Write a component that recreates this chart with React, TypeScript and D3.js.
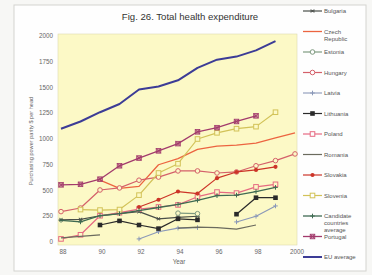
import React from 'react';
import * as d3 from 'd3';

// years on the x axis
const years = [1988, 1989, 1990, 1991, 1992, 1993, 1994, 1995, 1996, 1997, 1998, 1999, 2000];
const xTickLabels = ['88', '90', '92', '94', '96', '98', '2000'];
const xTickYears = [1988, 1990, 1992, 1994, 1996, 1998, 2000];
const yTicks = [0, 250, 500, 750, 1000, 1250, 1500, 1750, 2000];

// PPP $ per head (null = no data)
const bulgaria = [215, 220, 255, 275, 295, 225, 240, 250, null, null, null, null, null];
const czech = [null, null, 600, 520, 540, 750, 810, 900, 930, 940, 960, 1010, 1060];
const estonia = [null, null, null, null, null, null, 280, 275, null, null, null, null, null];
const hungary = [295, 330, 505, 525, 600, 630, 690, 690, 670, 680, 740, 790, 855];
const latvia = [null, null, null, null, 30, 100, 135, 140, null, 195, 250, 350, null];
const lithuania = [null, null, 165, 205, 165, 130, 225, 215, null, 270, 430, 430, null];
const poland = [30, 70, 255, 285, 320, 340, 360, 440, 485, 475, 535, 560, null];
const romania = [40, 55, 70, null, null, null, 135, 145, 140, 125, 165, null, null];
const slovakia = [null, null, null, null, 340, 410, 490, 470, 620, 680, 700, 730, null];
const slovenia = [null, 315, 310, 315, 455, 670, 760, 1000, 1060, 1100, 1120, 1260, null];
const candidates = [210, 195, 255, 275, 305, 335, 365, 405, 450, 455, 490, 530, null];
const portugal = [555, 560, 610, 740, 815, 885, 955, 1070, 1110, 1170, 1225, null, null];
const euAverage = [1100, 1170, 1260, 1340, 1480, 1510, 1570, 1690, 1770, 1800, 1860, 1950, null];

const seriesNames = ['Bulgaria', 'Czech Republic', 'Estonia', 'Hungary', 'Latvia', 'Lithuania', 'Poland',
  'Romania', 'Slovakia', 'Slovenia', 'Candidate countries average', 'Portugal', 'EU average'];
const seriesValues = [bulgaria, czech, estonia, hungary, latvia, lithuania, poland,
  romania, slovakia, slovenia, candidates, portugal, euAverage];

// styles per series
const styles: Record<string, { color: string; marker: string; width: number; label: string[] }> = {
  'Bulgaria': { color: '#4a4f4a', marker: 'star', width: 1.2, label: ['Bulgaria'] },
  'Czech Republic': { color: '#ec6440', marker: 'none', width: 1.3, label: ['Czech', 'Republic'] },
  'Estonia': { color: '#7f9a80', marker: 'circleOpen', width: 1.2, label: ['Estonia'] },
  'Hungary': { color: '#d4606a', marker: 'circleOpen', width: 1.2, label: ['Hungary'] },
  'Latvia': { color: '#8a98b8', marker: 'plus', width: 1.1, label: ['Latvia'] },
  'Lithuania': { color: '#2a2a2a', marker: 'squareFill', width: 1.2, label: ['Lithuania'] },
  'Poland': { color: '#e66a82', marker: 'squareOpen', width: 1.2, label: ['Poland'] },
  'Romania': { color: '#6b6b5e', marker: 'none', width: 1.2, label: ['Romania'] },
  'Slovakia': { color: '#cc3428', marker: 'circleFill', width: 1.2, label: ['Slovakia'] },
  'Slovenia': { color: '#d2c258', marker: 'squareOpen', width: 1.2, label: ['Slovenia'] },
  'Candidate countries average': { color: '#3f6a52', marker: 'plus', width: 1.3, label: ['Candidate', 'countries', 'average'] },
  'Portugal': { color: '#a23a6c', marker: 'squareX', width: 1.3, label: ['Portugal'] },
  'EU average': { color: '#3c3c96', marker: 'none', width: 2, label: ['EU average'] },
};

const plotBg = '#fcf9c6';

function Marker({ type, x, y, color, bg }: { type: string; x: number; y: number; color: string; bg: string }) {
  const s = 2.3;
  switch (type) {
    case 'star':
      return (
        <g stroke={color} strokeWidth={1}>
          <line x1={x - s} y1={y} x2={x + s} y2={y} />
          <line x1={x - s * 0.7} y1={y - s * 0.7} x2={x + s * 0.7} y2={y + s * 0.7} />
          <line x1={x - s * 0.7} y1={y + s * 0.7} x2={x + s * 0.7} y2={y - s * 0.7} />
        </g>
      );
    case 'circleOpen':
      return <circle cx={x} cy={y} r={s} fill={bg} stroke={color} strokeWidth={1} />;
    case 'circleFill':
      return <circle cx={x} cy={y} r={s * 0.9} fill={color} />;
    case 'plus':
      return (
        <g stroke={color} strokeWidth={1}>
          <line x1={x - s} y1={y} x2={x + s} y2={y} />
          <line x1={x} y1={y - s} x2={x} y2={y + s} />
        </g>
      );
    case 'squareFill':
      return <rect x={x - s} y={y - s} width={s * 2} height={s * 2} fill={color} />;
    case 'squareOpen':
      return <rect x={x - s} y={y - s} width={s * 2} height={s * 2} fill={bg} stroke={color} strokeWidth={1} />;
    case 'squareX':
      return (
        <g>
          <rect x={x - s} y={y - s} width={s * 2} height={s * 2} fill={color} fillOpacity={0.55} stroke={color} strokeWidth={0.8} />
          <line x1={x - s} y1={y - s} x2={x + s} y2={y + s} stroke={color} strokeWidth={0.8} />
          <line x1={x - s} y1={y + s} x2={x + s} y2={y - s} stroke={color} strokeWidth={0.8} />
        </g>
      );
    default:
      return null;
  }
}

export default function App() {
  const W = 372;
  const H = 275;
  const plot = { left: 58, right: 297, top: 34, bottom: 245 };

  const x = d3.scaleLinear().domain([1988, 2000]).range([61, 295]);
  const y = d3.scaleLinear().domain([0, 2000]).range([242, 36]);
  const legendY = d3.scalePoint<string>().domain(seriesNames).range([11, 257]);

  const line = d3.line<number | null>()
    .defined(d => d != null)
    .x((_, i) => x(years[i]))
    .y(d => y(d as number));

  const font = 'Arial, "Liberation Sans", sans-serif';

  return (
    <svg width={W} height={H} style={{ position: 'absolute', left: 0, top: 0, background: '#f7f7f5' }} fontFamily={font}>
      <rect x={14} y={5} width={352} height={266} fill="#fefefe" stroke="#d4d4d0" strokeWidth={1} />
      <rect x={plot.left} y={plot.top} width={plot.right - plot.left} height={plot.bottom - plot.top}
        fill={plotBg} stroke="#dcdab0" strokeWidth={0.6} />

      <text x={190} y={20} textAnchor="middle" fontSize={9.6} fill="#333">Fig. 26. Total health expenditure</text>

      {yTicks.map(t => (
        <text key={t} x={53} y={y(t) + 2.2} textAnchor="end" fontSize={6.3} fill="#666">{t}</text>
      ))}
      {xTickYears.map((t, i) => (
        <text key={t} x={x(t) + 2} y={254} textAnchor="middle" fontSize={6.3} fill="#666">{xTickLabels[i]}</text>
      ))}
      <text x={179} y={264} textAnchor="middle" fontSize={6.3} fill="#666">Year</text>
      <text transform={`translate(33,${141}) rotate(-90)`} textAnchor="middle" fontSize={5.6} fill="#666">
        Purchasing power parity $ per head
      </text>

      {seriesNames.map((name, k) => {
        const st = styles[name];
        const vals = seriesValues[k];
        return (
          <g key={name}>
            <path d={line(vals) || ''} fill="none" stroke={st.color} strokeWidth={st.width} strokeLinejoin="round" />
            {vals.map((v, i) => v == null ? null : (
              <Marker key={i} type={st.marker} x={x(years[i])} y={y(v)} color={st.color} bg={plotBg} />
            ))}
          </g>
        );
      })}

      {seriesNames.map(name => {
        const st = styles[name];
        const ly = legendY(name) as number;
        return (
          <g key={name}>
            <line x1={303} x2={322} y1={ly} y2={ly} stroke={st.color} strokeWidth={st.width} />
            <Marker type={st.marker} x={312.5} y={ly} color={st.color} bg="#fefefe" />
            {st.label.map((l, j) => (
              <text key={j} x={324} y={ly + 2 + j * 7} fontSize={6} fill="#555">{l}</text>
            ))}
          </g>
        );
      })}
    </svg>
  );
}
